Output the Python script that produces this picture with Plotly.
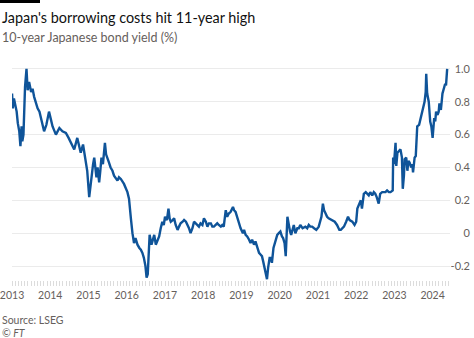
import plotly.graph_objects as go

dates = [
    "2013-01-01","2013-01-08","2013-01-19","2013-01-30","2013-02-14","2013-02-25","2013-03-11","2013-03-22",
    "2013-04-02","2013-04-09","2013-04-20","2013-05-05","2013-05-19","2013-05-30","2013-06-13","2013-07-02",
    "2013-07-16","2013-07-31","2013-09-02","2013-09-20","2013-10-05","2013-11-03","2013-11-25","2013-12-20",
    "2014-01-08","2014-01-23","2014-02-24","2014-03-29","2014-04-27","2014-05-30","2014-06-25","2014-07-16",
    "2014-08-18","2014-09-16","2014-10-05","2014-10-19","2014-11-10","2014-12-06","2014-12-20",
    "2015-01-08","2015-01-19","2015-01-30","2015-02-14","2015-02-25","2015-03-08","2015-03-18","2015-03-29",
    "2015-04-13","2015-04-24","2015-05-05","2015-05-19","2015-06-07","2015-06-18","2015-07-02","2015-07-16",
    "2015-07-31","2015-08-18","2015-09-02","2015-10-05","2015-10-19","2015-11-06","2015-12-06",
    "2016-01-08","2016-01-23","2016-02-03","2016-02-10","2016-02-25","2016-03-11","2016-03-25","2016-04-13",
    "2016-05-01","2016-05-15","2016-05-30","2016-06-13","2016-06-28","2016-07-09","2016-07-20","2016-07-27",
    "2016-08-07","2016-08-25","2016-09-09","2016-09-20","2016-10-05","2016-10-19","2016-11-06","2016-11-21",
    "2016-12-06","2016-12-20",
    "2017-01-01","2017-01-19","2017-02-03","2017-02-14","2017-02-25","2017-03-15","2017-03-29","2017-04-13",
    "2017-05-01","2017-05-15","2017-05-30","2017-06-18","2017-07-02","2017-07-20","2017-08-04","2017-08-18",
    "2017-09-02","2017-09-20","2017-10-05","2017-10-19","2017-11-06","2017-11-21","2017-12-06","2017-12-24",
    "2018-01-08","2018-01-26","2018-02-10","2018-02-25","2018-03-15","2018-03-29","2018-04-13","2018-05-01",
    "2018-05-15","2018-05-30","2018-06-18","2018-07-02","2018-07-16","2018-08-04","2018-08-18","2018-09-02",
    "2018-09-20","2018-10-12","2018-10-23","2018-11-06","2018-11-21","2018-12-06","2018-12-24",
    "2019-01-15","2019-01-26","2019-02-10","2019-02-25","2019-03-15","2019-03-29","2019-04-13","2019-05-01",
    "2019-05-15","2019-05-30","2019-06-18","2019-07-02","2019-07-16","2019-07-27","2019-08-07","2019-08-18",
    "2019-09-02","2019-09-13","2019-09-27","2019-10-08","2019-10-19","2019-11-03","2019-11-14","2019-11-29",
    "2019-12-09","2019-12-24",
    "2020-01-08","2020-01-23","2020-02-03","2020-02-17","2020-02-28","2020-03-15","2020-03-29","2020-04-09",
    "2020-04-20","2020-05-15","2020-05-30","2020-06-18","2020-07-02","2020-07-16","2020-08-07","2020-09-02",
    "2020-09-20","2020-10-05","2020-10-19","2020-11-06","2020-11-25","2020-12-16",
    "2021-01-08","2021-01-19","2021-02-03","2021-02-17","2021-02-28","2021-03-15","2021-03-29","2021-04-13",
    "2021-05-12","2021-06-10","2021-07-02","2021-07-24","2021-08-07","2021-09-06","2021-09-27","2021-10-15",
    "2021-10-30","2021-11-25","2021-12-16",
    "2022-01-01","2022-01-12","2022-02-03","2022-02-14","2022-02-25","2022-03-15","2022-04-02","2022-04-16",
    "2022-05-01","2022-05-15","2022-06-03","2022-06-18","2022-07-02","2022-07-16","2022-08-04","2022-08-18",
    "2022-09-06","2022-09-20","2022-10-08","2022-10-23","2022-11-10","2022-11-25","2022-12-16","2022-12-20",
    "2022-12-28",
    "2023-01-12","2023-01-19","2023-01-30","2023-02-14","2023-02-28","2023-03-14","2023-03-22","2023-04-02",
    "2023-04-09","2023-04-24","2023-05-05","2023-05-15","2023-05-26","2023-06-10","2023-06-21","2023-06-28",
    "2023-07-13","2023-07-24","2023-07-31","2023-08-07","2023-08-25","2023-09-06","2023-09-16","2023-10-02",
    "2023-10-16","2023-10-27","2023-11-01","2023-11-10","2023-11-25","2023-12-09","2023-12-20",
    "2024-01-01","2024-01-08","2024-01-16","2024-01-26","2024-02-03","2024-02-17","2024-02-28","2024-03-06",
    "2024-03-20","2024-04-04","2024-04-19","2024-04-30","2024-05-08","2024-05-19",
]

yields = [
    0.85, 0.76, 0.82, 0.79, 0.74, 0.67, 0.62, 0.53,
    0.65, 0.56, 0.60, 0.89, 1.00, 0.87, 0.92, 0.86,
    0.88, 0.83, 0.76, 0.74, 0.70, 0.62, 0.66, 0.74,
    0.69, 0.65, 0.60, 0.64, 0.62, 0.61, 0.58, 0.55,
    0.51, 0.58, 0.53, 0.49, 0.54, 0.45, 0.38,
    0.22, 0.28, 0.37, 0.42, 0.46, 0.38, 0.34, 0.40,
    0.31, 0.38, 0.46, 0.42, 0.55, 0.48, 0.46, 0.43,
    0.40, 0.38, 0.35, 0.32, 0.34, 0.33, 0.30,
    0.25, 0.21, 0.12, 0.09, 0.00, -0.06, -0.03, -0.07,
    -0.09, -0.10, -0.12, -0.15, -0.20, -0.27, -0.25, -0.15,
    -0.01, -0.07, -0.04, -0.01, -0.07, -0.05, -0.02, 0.03,
    0.07, 0.05,
    0.10, 0.08, 0.15, 0.09, 0.07, 0.08, 0.09, 0.05,
    0.02, 0.04, 0.06, 0.07, 0.08, 0.07, 0.05, 0.03,
    0.00, 0.03, 0.07, 0.06, 0.05, 0.04, 0.06, 0.05,
    0.09, 0.07, 0.04, 0.06, 0.06, 0.04, 0.04, 0.05,
    0.06, 0.05, 0.04, 0.05, 0.04, 0.14, 0.10, 0.12,
    0.13, 0.16, 0.14, 0.13, 0.10, 0.06, 0.03,
    0.00, 0.02, -0.01, -0.02, -0.04, -0.06, -0.04, -0.07,
    -0.05, -0.08, -0.12, -0.13, -0.14, -0.17, -0.20, -0.24,
    -0.28, -0.21, -0.15, -0.15, -0.18, -0.09, -0.06, -0.03,
    -0.01, 0.00,
    0.01, -0.02, -0.03, -0.06, -0.14, 0.10, 0.04, 0.01,
    -0.01, 0.05, 0.00, 0.03, 0.03, 0.05, 0.03, 0.04,
    0.03, 0.05, 0.04, 0.04, 0.03, 0.02,
    0.04, 0.07, 0.10, 0.18, 0.14, 0.12, 0.10, 0.09,
    0.08, 0.07, 0.05, 0.02, 0.02, 0.04, 0.07, 0.10,
    0.08, 0.07, 0.05,
    0.07, 0.15, 0.19, 0.20, 0.15, 0.24, 0.25, 0.24,
    0.23, 0.25, 0.23, 0.25, 0.24, 0.22, 0.18, 0.24,
    0.25, 0.25, 0.25, 0.26, 0.25, 0.25, 0.26, 0.46,
    0.42,
    0.55, 0.41, 0.49, 0.50, 0.51, 0.46, 0.27, 0.35,
    0.45, 0.46, 0.38, 0.44, 0.43, 0.40, 0.42, 0.37,
    0.46, 0.47, 0.60, 0.65, 0.66, 0.69, 0.72, 0.77,
    0.80, 0.86, 0.97, 0.85, 0.80, 0.68, 0.65,
    0.58, 0.62, 0.70, 0.68, 0.74, 0.72, 0.74, 0.79,
    0.75, 0.85, 0.89, 0.91, 0.90, 1.00,
]

y_tickvals = [-0.2, 0, 0.2, 0.4, 0.6, 0.8, 1.0]
y_ticktext = ["-0.2", "0", "0.2", "0.4", "0.6", "0.8", "1.0"]

title_text = "Japan's borrowing costs hit 11-year high"
subtitle_text = "10-year Japanese bond yield (%)"
source_text = "Source: LSEG"
credit_text = "© FT"

FONT = "Lato"
GREY = "#66605c"

fig = go.Figure()
fig.add_trace(go.Scatter(
    x=dates, y=yields, mode="lines",
    line=dict(color="#0f5499", width=2.4),
    hoverinfo="skip", showlegend=False,
))

W, H = 474, 338
L, R, T, B = 12, 4, 64, 58
pw, ph = W - L - R, H - T - B
PLOT_RIGHT = 450  # right end of the x axis, px

def px_x(p):
    return (p - L) / pw

def px_y(p):
    return 1 - (p - T) / ph

fig.update_layout(
    width=W, height=H,
    margin=dict(l=L, r=R, t=T, b=B, autoexpand=False),
    paper_bgcolor="white", plot_bgcolor="white",
    font=dict(family=FONT, size=11, color=GREY),
    xaxis=dict(
        type="date",
        domain=[0, px_x(PLOT_RIGHT)],
        range=["2012-12-31 12:00", "2024-06-15"],
        tick0="2013-01-01", dtick="M12", tickformat="%Y",
        showgrid=False, zeroline=False, showline=False,
        ticks="outside", ticklen=5, tickcolor="#dcdcdc", tickwidth=1,
        minor=dict(dtick="M1", ticks="outside", ticklen=5, tickcolor="#dcdcdc", tickwidth=1, showgrid=False),
        tickfont=dict(family=FONT, size=10.5, color=GREY),
        ticklabeloverflow="allow",
        automargin=False,
        fixedrange=True,
    ),
    yaxis=dict(
        side="left", anchor="free", position=1,
        range=[-0.285, 1.03],
        tickvals=y_tickvals, ticktext=y_ticktext,
        showgrid=True, gridcolor="#ebebeb", gridwidth=1,
        zeroline=False, showline=False, ticks="",
        ticklabelstandoff=0,
        tickfont=dict(family=FONT, size=11, color=GREY),
        automargin=False,
        fixedrange=True,
    ),
    shapes=[dict(type="rect", xref="paper", yref="paper",
                 x0=px_x(0), x1=px_x(40), y0=px_y(3), y1=px_y(0),
                 fillcolor="black", line=dict(width=0))],
    annotations=[
        dict(text=title_text, xref="paper", yref="paper", x=px_x(0), y=px_y(17),
             xanchor="left", yanchor="middle", showarrow=False,
             font=dict(family=FONT, size=14.4, color="#111111")),
        dict(text=subtitle_text, xref="paper", yref="paper", x=px_x(0), y=px_y(38),
             xanchor="left", yanchor="middle", showarrow=False,
             font=dict(family=FONT, size=12.5, color=GREY)),
        dict(text=source_text, xref="paper", yref="paper", x=px_x(0), y=px_y(320),
             xanchor="left", yanchor="middle", showarrow=False,
             font=dict(family=FONT, size=10.5, color=GREY)),
        dict(text="<i>" + credit_text + "</i>", xref="paper", yref="paper", x=px_x(0), y=px_y(333),
             xanchor="left", yanchor="middle", showarrow=False,
             font=dict(family=FONT, size=10.5, color=GREY)),
    ],
)

fig.write_html("out.html")
